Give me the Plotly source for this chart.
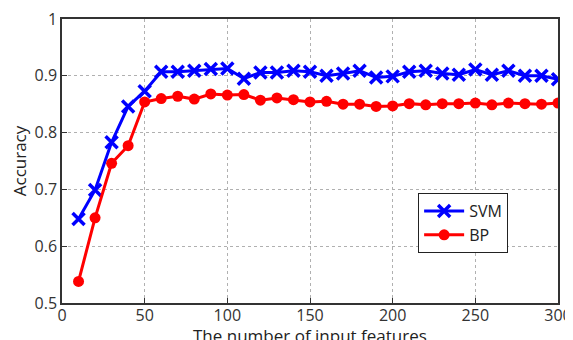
import plotly.graph_objects as go

features = [10, 20, 30, 40, 50, 60, 70, 80, 90, 100, 110, 120, 130, 140, 150,
            160, 170, 180, 190, 200, 210, 220, 230, 240, 250, 260, 270, 280, 290, 300]
svm = [0.648, 0.699, 0.783, 0.846, 0.873, 0.907, 0.907, 0.909, 0.912, 0.913,
       0.895, 0.906, 0.906, 0.909, 0.907, 0.900, 0.904, 0.909, 0.897, 0.899,
       0.907, 0.909, 0.904, 0.902, 0.911, 0.902, 0.909, 0.900, 0.900, 0.894]
bp = [0.538, 0.650, 0.746, 0.777, 0.854, 0.860, 0.864, 0.859, 0.868, 0.866,
      0.867, 0.857, 0.861, 0.858, 0.854, 0.855, 0.850, 0.850, 0.846, 0.847,
      0.851, 0.849, 0.851, 0.851, 0.852, 0.849, 0.852, 0.851, 0.850, 0.852]
x_ticks = [0, 50, 100, 150, 200, 250, 300]
y_ticks = [0.5, 0.6, 0.7, 0.8, 0.9, 1.0]
y_ticktext = ["0.5", "0.6", "0.7", "0.8", "0.9", "1"]

fig = go.Figure()
fig.add_trace(go.Scatter(x=features, y=svm, name="SVM", mode="lines+markers",
                         line=dict(color="#0000ff", width=3),
                         marker=dict(symbol="x-thin", size=12, line=dict(width=3.5, color="#0000ff"), color="#0000ff")))
fig.add_trace(go.Scatter(x=features, y=bp, name="BP", mode="lines+markers",
                         line=dict(color="#ff0000", width=3),
                         marker=dict(symbol="circle", size=11, color="#ff0000")))

axis_common = dict(showline=True, linecolor="#333333", linewidth=1.5, mirror=True,
                   ticks="inside", ticklen=5, tickcolor="#333333",
                   showgrid=True, gridcolor="#b0b0b0", griddash="dot", gridwidth=1,
                   zeroline=False, automargin=False, ticklabeloverflow="allow",
                   tickfont=dict(size=16, color="#333333"))

fig.update_xaxes(range=[0, 300], tickvals=x_ticks, ticklabelstandoff=-3, **axis_common)
fig.update_yaxes(range=[0.5, 1.0], tickvals=y_ticks, ticktext=y_ticktext, **axis_common,
                 title=dict(text="Accuracy", font=dict(size=17, color="#222222"), standoff=6))

fig.add_annotation(text="The number of input features", xref="paper", yref="paper",
                   x=0.5, y=0, xanchor="center", yanchor="top", yshift=-19,
                   showarrow=False, font=dict(size=17, color="#222222"))

fig.update_layout(width=565, height=332,
                  margin=dict(l=54, r=15, t=11, b=37),
                  paper_bgcolor="white", plot_bgcolor="white",
                  font=dict(family="Open Sans, DejaVu Sans, sans-serif"),
                  legend=dict(x=0.718, y=0.387, xanchor="left", yanchor="top",
                              bordercolor="#222222", borderwidth=1, bgcolor="white",
                              font=dict(size=16, color="#222222"),
                              tracegroupgap=0, itemwidth=40))

fig.write_html("out.html")
